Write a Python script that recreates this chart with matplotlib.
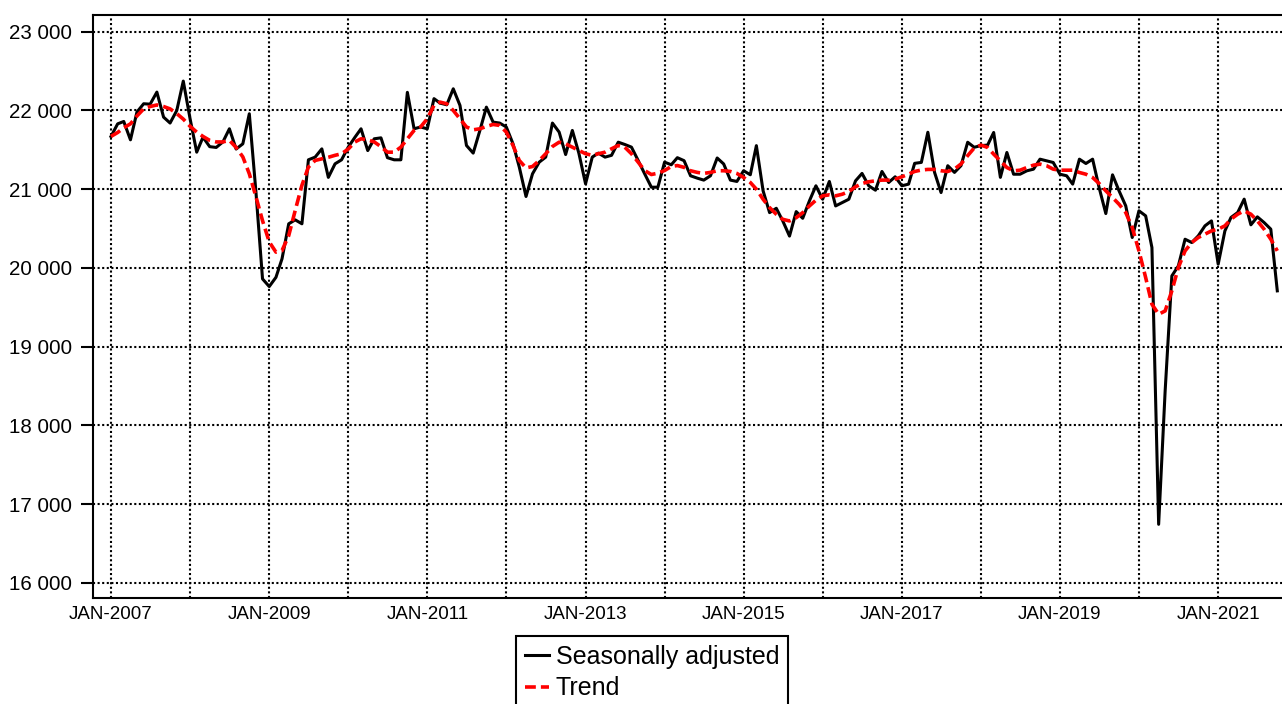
import numpy as np
import pandas as pd
import matplotlib
matplotlib.use("Agg")
import matplotlib.pyplot as plt
import matplotlib.dates as mdates
from matplotlib.ticker import FuncFormatter, MultipleLocator

plt.rcParams['font.family'] = ['Liberation Sans', 'DejaVu Sans']

# monthly series, Jan 2007 .. Oct 2021
start_month = "2007-01-01"

seasonally_adjusted = [
    21670, 21830, 21860, 21627, 21980, 22085, 22080, 22233, 21915, 21840, 22000, 22373,
    21900, 21470, 21660, 21540, 21530, 21600, 21767, 21510, 21576, 21958, 20950, 19860,
    19763, 19880, 20115, 20560, 20610, 20560, 21373, 21407, 21512, 21150, 21322, 21373,
    21534, 21660, 21767, 21490, 21640, 21652, 21400, 21373, 21373, 22230, 21767, 21790,
    21767, 22150, 22093, 22072, 22275, 22064, 21555, 21458, 21746, 22042, 21852, 21840,
    21790, 21576, 21280, 20907, 21195, 21343, 21407, 21840, 21725, 21440, 21746, 21458,
    21068, 21407, 21458, 21407, 21430, 21597, 21568, 21534, 21364, 21195, 21025, 21025,
    21343, 21310, 21400, 21362, 21170, 21140, 21115, 21170, 21396, 21320, 21115, 21098,
    21234, 21183, 21553, 20979, 20702, 20757, 20596, 20404, 20715, 20630, 20851, 21043,
    20872, 21098, 20787, 20830, 20872, 21106, 21200, 21043, 20987, 21225, 21085, 21157,
    21043, 21064, 21328, 21340, 21723, 21213, 20957, 21298, 21213, 21298, 21596, 21532,
    21553, 21560, 21720, 21150, 21466, 21190, 21190, 21233, 21254, 21381, 21360, 21339,
    21190, 21170, 21064, 21381, 21326, 21381, 21021, 20690, 21182, 20979, 20788, 20386,
    20725, 20661, 20258, 16742, 18436, 19898, 20025, 20364, 20322, 20407, 20534, 20597,
    20047, 20470, 20640, 20703, 20873, 20547, 20648, 20576, 20492, 19708,
]

trend = [
    21670, 21720, 21780, 21830, 21930, 22020, 22050, 22070, 22050, 22020, 21960, 21890,
    21800, 21725, 21670, 21620, 21600, 21600, 21620, 21530, 21410, 21195, 20900, 20600,
    20330, 20200, 20220, 20410, 20730, 21050, 21280, 21365, 21385, 21405, 21430, 21450,
    21510, 21600, 21640, 21627, 21600, 21540, 21470, 21470, 21534, 21640, 21746, 21790,
    21894, 22064, 22106, 22085, 22000, 21894, 21790, 21754, 21767, 21797, 21822, 21810,
    21725, 21555, 21364, 21270, 21288, 21364, 21450, 21542, 21597, 21576, 21534, 21492,
    21450, 21430, 21450, 21470, 21513, 21555, 21534, 21450, 21343, 21237, 21186, 21203,
    21237, 21288, 21300, 21277, 21234, 21213, 21200, 21213, 21234, 21234, 21225, 21200,
    21149, 21085, 21000, 20872, 20766, 20681, 20617, 20596, 20638, 20702, 20787, 20860,
    20915, 20928, 20915, 20936, 20970, 21030, 21072, 21094, 21106, 21115, 21115, 21128,
    21157, 21191, 21225, 21243, 21251, 21251, 21234, 21225, 21255, 21320, 21426, 21523,
    21560, 21530, 21445, 21360, 21275, 21233, 21241, 21275, 21305, 21318, 21297, 21254,
    21241, 21241, 21241, 21212, 21190, 21148, 21072, 20979, 20894, 20809, 20703, 20513,
    20216, 19877, 19538, 19411, 19453, 19708, 20004, 20216, 20322, 20386, 20428, 20470,
    20492, 20534, 20619, 20682, 20725, 20682, 20597, 20492, 20364, 20216,
]

labels = ["Seasonally adjusted", "Trend"]
tick_years = [2007, 2009, 2011, 2013, 2015, 2017, 2019, 2021]
grid_years = list(range(2007, 2022))

dates = pd.date_range(start_month, periods=len(seasonally_adjusted), freq="MS")

W, H = 1282, 704
fig = plt.figure(figsize=(W / 100, H / 100), dpi=100)
ax = fig.add_axes([93 / W, 1 - 598 / H, 1197.5 / W, (598 - 14.5) / H])

ax.plot(dates, seasonally_adjusted, color="black", lw=2.2, zorder=3, label=labels[0])
ax.plot(dates, trend, color="#ff0000", lw=2.6, dashes=(3.0, 1.4), zorder=4, label=labels[1])

ax.set_xlim(pd.Timestamp("2006-10-10"), pd.Timestamp("2021-12-01"))
ax.set_ylim(15806, 23219)

ax.set_xticks([pd.Timestamp(f"{y}-01-01") for y in tick_years])
ax.set_xticks([pd.Timestamp(f"{y}-01-01") for y in grid_years], minor=True)
ax.xaxis.set_major_formatter(FuncFormatter(lambda v, p: mdates.num2date(v).strftime("%b-%Y").upper()))
ax.yaxis.set_major_locator(MultipleLocator(1000))
ax.yaxis.set_major_formatter(FuncFormatter(lambda v, p: "{:,.0f}".format(v).replace(",", " ")))

grid_style = dict(color="black", linestyle=(0, (1, 1.2)), linewidth=1.5)
ax.grid(True, axis="x", which="both", **grid_style)
ax.grid(True, axis="y", which="major", **grid_style)
ax.set_axisbelow(True)

ax.tick_params(axis="x", which="both", length=0, pad=6, labelsize=13.5)
ax.tick_params(axis="y", length=8.6, width=1.5, pad=6.5, labelsize=14.8)

for side in ["left", "top", "bottom", "right"]:
    ax.spines[side].set_linewidth(1.5)

leg = fig.legend(loc="upper left", bbox_to_anchor=(516 / W, 1 - 636 / H),
                 fontsize=18, frameon=True, fancybox=False, framealpha=1,
                 edgecolor="black", handlelength=0.95, handletextpad=0.3,
                 borderpad=0.35, labelspacing=0.3, borderaxespad=0)
leg.get_frame().set_linewidth(1.5)

fig.savefig("out.png", dpi=100)
